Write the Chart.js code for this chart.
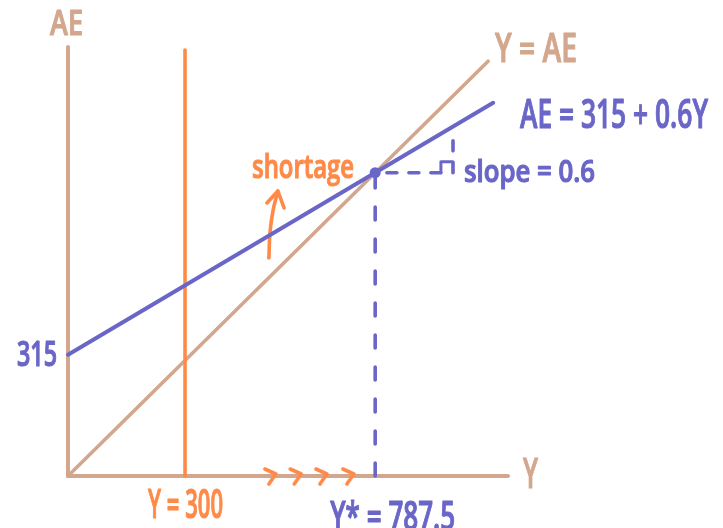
<!DOCTYPE html>
<html>
<head>
<meta charset="utf-8">
<style>
  html, body { margin: 0; padding: 0; background: #ffffff; }
  canvas { display: block; }
</style>
<script src="https://cdn.jsdelivr.net/npm/chart.js@4.4.1/dist/chart.umd.min.js"></script>
</head>
<body>
<canvas id="cross" width="723" height="528"></canvas>
<script>
// Keynesian cross: planned expenditure AE = 315 + 0.6Y against the 45° line Y = AE
const aeIntercept = 315;
const aeSlope = 0.6;
const lowOutput = 300;
const equilibriumY = 787.5;

// axis extents (output Y, expenditure AE)
const axisRangeX = [0, 1128];
const axisRangeY = [0, 1114];

// drawn extents of the two lines (values of Y)
const diagonalY = [0, 1077];
const aeLineY = [0, 1090];

// vertical marker at Y = 300 (AE values it spans)
const lowOutputSpan = [0, 1106];

// slope triangle from the equilibrium point: run end, right-angle marker
const slopeRunEndY = 987;
const rightAngleX = [956, 956, 987];
const rightAngleAE = [787.5, 816, 816];

// output-adjustment chevrons along the Y axis
const stepArrowsY = [520, 585, 651, 720];

// "shortage" arrow: shaft and head
const shortageShaftX = [515, 518, 526, 538];
const shortageShaftAE = [566, 634, 691, 740];
const shortageHeadX = [510, 538, 554];
const shortageHeadAE = [709, 740, 696];

const TAN = '#d3a78e';
const BLUE = '#6a66c8';
const ORANGE = '#ff8a48';

const ae = y => aeIntercept + aeSlope * y;
const pts = (xs, ys) => xs.map((x, i) => ({ x, y: ys[i] }));

// chevron marker ">" used as a point style
function chevron() {
  const c = document.createElement('canvas');
  c.width = 20; c.height = 24;
  const g = c.getContext('2d');
  g.strokeStyle = ORANGE;
  g.lineWidth = 3.6;
  g.lineCap = 'round';
  g.lineJoin = 'round';
  g.beginPath();
  g.moveTo(4, 5);
  g.lineTo(15, 10);
  g.lineTo(8, 20);
  g.stroke();
  return c;
}

const lineBase = {
  type: 'line',
  pointRadius: 0,
  pointHoverRadius: 0,
  borderWidth: 4,
  borderCapStyle: 'round',
  borderJoinStyle: 'round',
  fill: false,
  clip: false,
  tension: 0
};

const datasets = [
  Object.assign({}, lineBase, {
    type: 'scatter', order: 0,
    data: [{ x: equilibriumY, y: equilibriumY }],
    pointRadius: 5.5, pointBackgroundColor: BLUE, pointBorderWidth: 0, showLine: false
  }),
  Object.assign({}, lineBase, {
    type: 'scatter', order: 1,
    data: stepArrowsY.map(x => ({ x, y: 0 })),
    pointStyle: chevron(), pointRadius: 10, showLine: false
  }),
  Object.assign({}, lineBase, {
    order: 2, borderColor: BLUE, borderWidth: 3.6, borderDash: [13, 19],
    data: [{ x: equilibriumY, y: 0 }, { x: equilibriumY, y: equilibriumY }]
  }),
  Object.assign({}, lineBase, {
    order: 2, borderColor: BLUE, borderWidth: 3.6, borderDash: [10, 12],
    data: [{ x: equilibriumY + 30, y: equilibriumY }, { x: slopeRunEndY, y: equilibriumY },
           { x: slopeRunEndY, y: ae(slopeRunEndY) - 20 }]
  }),
  Object.assign({}, lineBase, {
    order: 2, borderColor: BLUE, borderWidth: 3,
    data: pts(rightAngleX, rightAngleAE)
  }),
  Object.assign({}, lineBase, {
    order: 3, borderColor: BLUE,
    data: aeLineY.map(y => ({ x: y, y: ae(y) }))
  }),
  Object.assign({}, lineBase, {
    order: 4, borderColor: ORANGE, borderWidth: 3.6,
    data: pts([lowOutput, lowOutput], lowOutputSpan)
  }),
  Object.assign({}, lineBase, {
    order: 4, borderColor: ORANGE, borderWidth: 3.6, tension: 0.4,
    data: pts(shortageShaftX, shortageShaftAE)
  }),
  Object.assign({}, lineBase, {
    order: 4, borderColor: ORANGE, borderWidth: 3.6,
    data: pts(shortageHeadX, shortageHeadAE)
  }),
  Object.assign({}, lineBase, {
    order: 5, borderColor: TAN, borderWidth: 3.6,
    data: diagonalY.map(y => ({ x: y, y: y }))
  }),
  Object.assign({}, lineBase, {
    order: 6, borderColor: TAN, borderWidth: 4,
    data: [{ x: axisRangeX[0], y: 0 }, { x: axisRangeX[1], y: 0 }]
  }),
  Object.assign({}, lineBase, {
    order: 6, borderColor: TAN, borderWidth: 4,
    data: [{ x: 0, y: axisRangeY[0] }, { x: 0, y: axisRangeY[1] }]
  })
];

// text drawn into a box: left/right edges, cap top, baseline
function boxText(ctx, str, left, right, top, base, color, capRatio) {
  const size = (base - top) / (capRatio || 0.714);
  ctx.save();
  ctx.font = '600 ' + size + 'px "Open Sans"';
  ctx.textBaseline = 'alphabetic';
  ctx.textAlign = 'left';
  const w = ctx.measureText(str).width;
  ctx.translate(left, base);
  ctx.scale((right - left) / w, 1);
  ctx.fillStyle = color;
  ctx.strokeStyle = color;
  ctx.lineWidth = 1.1;
  ctx.lineJoin = 'round';
  ctx.fillText(str, 0, 0);
  ctx.strokeText(str, 0, 0);
  ctx.restore();
}

const labels = {
  id: 'labels',
  afterDatasetsDraw(chart) {
    const { ctx, scales: { x, y } } = chart;
    const x0 = x.getPixelForValue(0);
    const xLow = x.getPixelForValue(lowOutput);
    const xEq = x.getPixelForValue(equilibriumY);
    const yInt = y.getPixelForValue(aeIntercept);
    const yTop = y.getPixelForValue(axisRangeY[1]);
    const yBase = y.getPixelForValue(0);
    const xEnd = x.getPixelForValue(axisRangeX[1]);

    boxText(ctx, 'AE', x0 - 18, x0 + 15, yTop - 37, yTop - 12, TAN);
    boxText(ctx, 'Y', xEnd + 15, xEnd + 30, yBase - 18, yBase + 12, TAN);
    boxText(ctx, 'Y = AE', 495, 577, 34, 62, TAN);
    boxText(ctx, 'AE = 315 + 0.6Y', 520, 708, 99, 128, BLUE);
    boxText(ctx, 'slope = 0.6', 464, 595, 160, 182, BLUE, 0.74);
    boxText(ctx, 'shortage', 252, 354, 154, 178, ORANGE, 0.76);
    boxText(ctx, '315', 17, x0 - 11, yInt - 14, yInt + 11, BLUE);
    boxText(ctx, 'Y = 300', xLow - 37, xLow + 38, yBase + 14, yBase + 42, ORANGE);
    boxText(ctx, 'Y* = 787.5', xEq - 45, xEq + 80, yBase + 26, yBase + 54, BLUE);
  }
};

new Chart(document.getElementById('cross'), {
  type: 'line',
  data: { datasets },
  plugins: [labels],
  options: {
    responsive: false,
    devicePixelRatio: 1,
    animation: false,
    events: [],
    layout: { padding: { left: 68, top: 47, right: 215, bottom: 52 } },
    plugins: { legend: { display: false }, tooltip: { enabled: false } },
    scales: {
      x: { type: 'linear', min: axisRangeX[0], max: axisRangeX[1], display: false },
      y: { type: 'linear', min: axisRangeY[0], max: axisRangeY[1], display: false }
    }
  }
});
</script>
</body>
</html>
